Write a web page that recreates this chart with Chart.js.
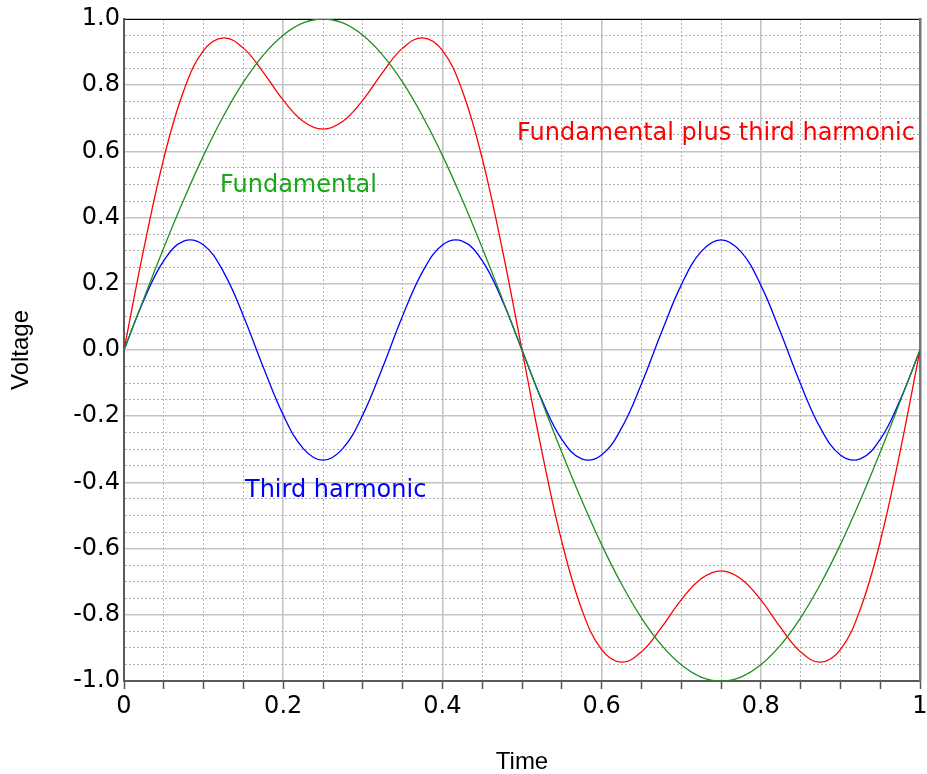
<!DOCTYPE html>
<html>
<head>
<meta charset="utf-8">
<script src="https://cdn.jsdelivr.net/npm/chart.js@4/dist/chart.umd.min.js"></script>
<style>
  html, body { margin: 0; padding: 0; background: #fff; }
  #wrap { width: 927px; height: 774px; position: relative; }
</style>
</head>
<body>
<div id="wrap"><canvas id="c"></canvas></div>
<script>
// ---- data ----
const times = [0, 0.025, 0.05, 0.075, 0.1, 0.125, 0.15, 0.175, 0.2, 0.225,
  0.25, 0.275, 0.3, 0.325, 0.35, 0.375, 0.4, 0.425, 0.45, 0.475,
  0.5, 0.525, 0.55, 0.575, 0.6, 0.625, 0.65, 0.675, 0.7, 0.725,
  0.75, 0.775, 0.8, 0.825, 0.85, 0.875, 0.9, 0.925, 0.95, 0.975, 1];

const fundamental = [0, 0.156, 0.309, 0.454, 0.588, 0.707, 0.809, 0.891, 0.951, 0.988,
  1.000, 0.988, 0.951, 0.891, 0.809, 0.707, 0.588, 0.454, 0.309, 0.156,
  0, -0.156, -0.309, -0.454, -0.588, -0.707, -0.809, -0.891, -0.951, -0.988,
  -1.000, -0.988, -0.951, -0.891, -0.809, -0.707, -0.588, -0.454, -0.309, -0.156, 0];

const thirdHarmonic = [0, 0.151, 0.270, 0.329, 0.317, 0.236, 0.103, -0.052, -0.196, -0.297,
  -0.333, -0.297, -0.196, -0.052, 0.103, 0.236, 0.317, 0.329, 0.270, 0.151,
  0, -0.151, -0.270, -0.329, -0.317, -0.236, -0.103, 0.052, 0.196, 0.297,
  0.333, 0.297, 0.196, 0.052, -0.103, -0.236, -0.317, -0.329, -0.270, -0.151, 0];

const fundamentalPlusThird = [0, 0.307, 0.579, 0.783, 0.905, 0.943, 0.912, 0.839, 0.755, 0.691,
  0.667, 0.691, 0.755, 0.839, 0.912, 0.943, 0.905, 0.783, 0.579, 0.307,
  0, -0.307, -0.579, -0.783, -0.905, -0.943, -0.912, -0.839, -0.755, -0.691,
  -0.667, -0.691, -0.755, -0.839, -0.912, -0.943, -0.905, -0.783, -0.579, -0.307, 0];

const seriesNames = ['Fundamental', 'Third harmonic', 'Fundamental plus third harmonic'];
const seriesColors = ['#1f8f1f', '#0000ff', '#ff0000'];

// annotation labels (text, data x, data y of baseline, colour)
const labelTexts = ['Fundamental', 'Third harmonic', 'Fundamental plus third harmonic'];
const labelX = [0.1206, 0.152, 0.4937];
const labelY = [0.477, -0.445, 0.634];
const labelColors = ['#16a816', '#0000ff', '#ff0000'];

const xTitle = 'Time';
const yTitle = 'Voltage';

// ---- chart ----
function pts(arr) { return arr.map((v, i) => ({ x: times[i], y: v })); }
function isMajor(v) { return Math.round(v * 100) % 20 === 0; }

const textPlugin = {
  id: 'textLabels',
  afterDatasetsDraw(chart) {
    const { ctx, scales } = chart;
    ctx.save();
    ctx.font = '24px "DejaVu Sans"';
    ctx.textAlign = 'left';
    ctx.textBaseline = 'alphabetic';
    labelTexts.forEach((t, i) => {
      ctx.fillStyle = labelColors[i];
      ctx.fillText(t, scales.x.getPixelForValue(labelX[i]), scales.y.getPixelForValue(labelY[i]));
    });
    ctx.restore();
  }
};

const minorGridColor = '#b0b0b0';
const majorGridColor = '#c4c4c4';

new Chart(document.getElementById('c'), {
  type: 'line',
  data: {
    datasets: [
      { label: seriesNames[0], data: pts(fundamental), borderColor: seriesColors[0] },
      { label: seriesNames[1], data: pts(thirdHarmonic), borderColor: seriesColors[1] },
      { label: seriesNames[2], data: pts(fundamentalPlusThird), borderColor: seriesColors[2] }
    ].map(d => Object.assign(d, { borderWidth: 1.3, pointRadius: 0, tension: 0.4, fill: false }))
  },
  options: {
    responsive: true,
    maintainAspectRatio: false,
    animation: false,
    layout: { padding: { top: 19, right: 7, left: 0, bottom: 0 } },
    plugins: { legend: { display: false }, tooltip: { enabled: false } },
    font: { family: '"DejaVu Sans"' },
    scales: {
      x: {
        type: 'linear', position: 'bottom', min: 0, max: 1,
        ticks: {
          stepSize: 0.05, autoSkip: false, maxRotation: 0, padding: 3,
          color: '#000', font: { family: '"DejaVu Sans"', size: 24 },
          callback: v => isMajor(v) ? String(Number(v.toFixed(2))) : ''
        },
        grid: {
          color: c => (c.tick && isMajor(c.tick.value)) ? 'rgba(0,0,0,0)' : minorGridColor,
          lineWidth: 1, drawTicks: true, tickLength: 8, tickColor: '#555', tickWidth: 1.5
        },
        border: { display: true, color: '#5a5a5a', width: 2, dash: [2, 2] },
        title: {
          display: true, text: xTitle, color: '#000',
          font: { family: '"Liberation Sans"', size: 24, lineHeight: 1 },
          padding: { top: 0, bottom: 0 }
        },
        afterFit: s => { s.height = 93; s.paddingLeft = 0; s.paddingRight = 0; }
      },
      xMaj: {
        type: 'linear', position: 'top', min: 0, max: 1,
        ticks: { stepSize: 0.2, display: false },
        grid: { color: majorGridColor, lineWidth: 1.6, drawTicks: false },
        border: { display: true, color: '#000', width: 1 },
        afterFit: s => { s.height = 0; s.paddingLeft = 0; s.paddingRight = 0; }
      },
      y: {
        type: 'linear', position: 'left', min: -1, max: 1,
        ticks: {
          stepSize: 0.05, autoSkip: false, padding: 4,
          color: '#000', font: { family: '"DejaVu Sans"', size: 24 },
          callback: v => isMajor(v) ? (Math.abs(v) < 1e-9 ? 0 : v).toFixed(1) : ''
        },
        grid: {
          color: c => (c.tick && isMajor(c.tick.value)) ? 'rgba(0,0,0,0)' : minorGridColor,
          lineWidth: 1, drawTicks: false
        },
        border: { display: true, color: '#5a5a5a', width: 2, dash: [2, 2] },
        title: {
          display: true, text: yTitle, color: '#000',
          font: { family: '"Liberation Sans"', size: 24, lineHeight: 1 },
          padding: { top: 9.5, bottom: 0 }
        },
        afterFit: s => { s.width = 124; s.paddingTop = 0; s.paddingBottom = 0; }
      },
      yMaj: {
        type: 'linear', position: 'right', min: -1, max: 1,
        ticks: { stepSize: 0.2, display: false },
        grid: { color: majorGridColor, lineWidth: 1.6, drawTicks: false },
        border: { display: true, color: '#777', width: 2.5 },
        afterFit: s => { s.width = 0; s.paddingTop = 0; s.paddingBottom = 0; }
      }
    }
  },
  plugins: [textPlugin]
});
</script>
</body>
</html>
